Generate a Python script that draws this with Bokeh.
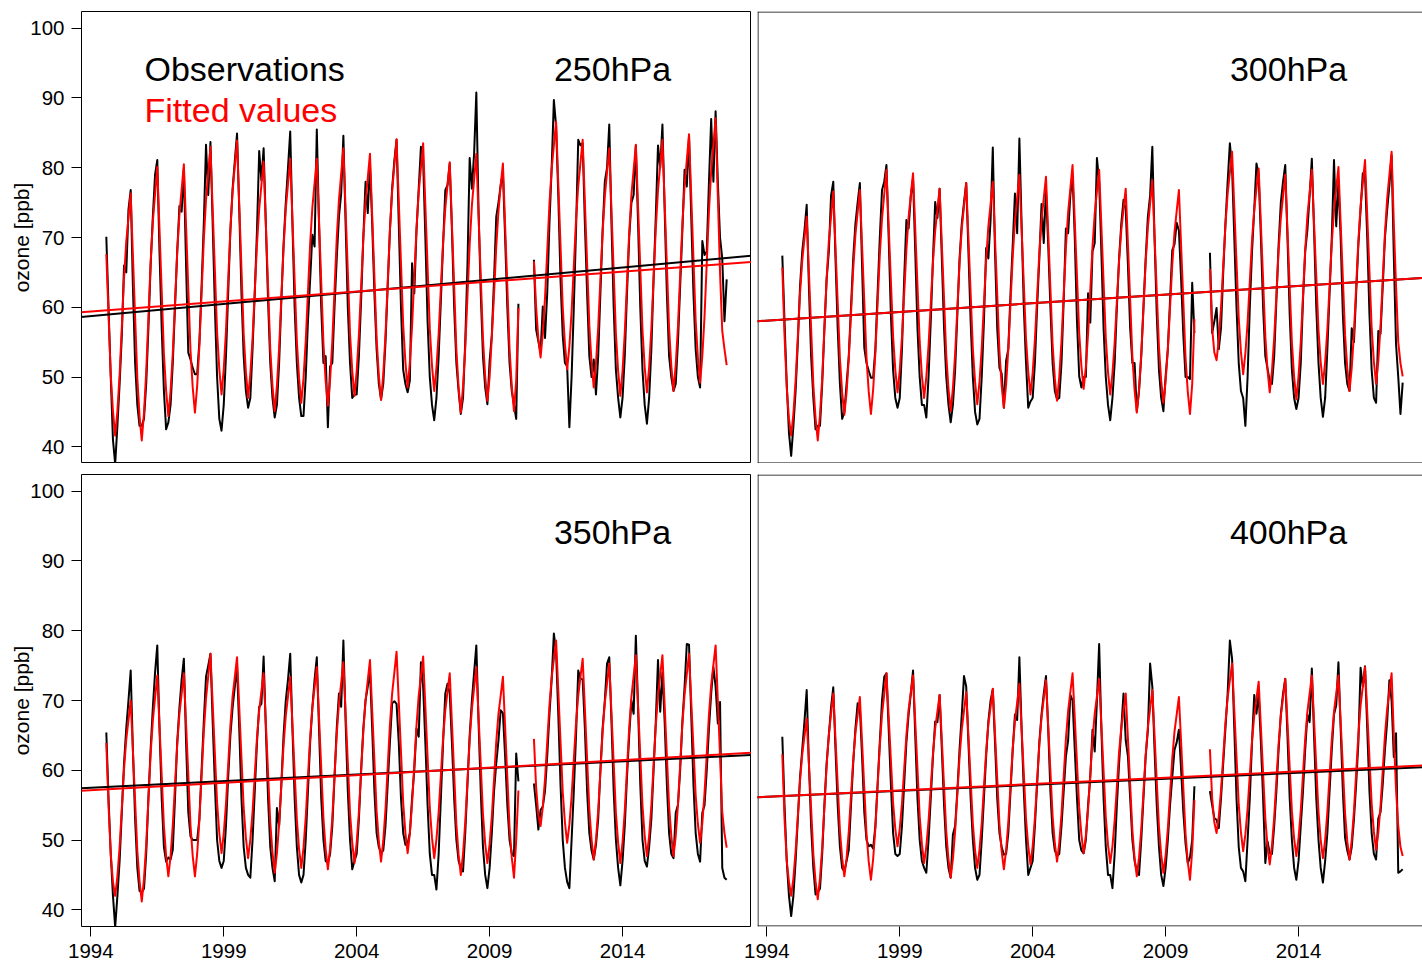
import numpy as np
from bokeh.plotting import figure
from bokeh.layouts import row, column
from bokeh.models import Label, Slope, Span, FixedTicker, Range1d
from bokeh.embed import file_html
from bokeh.resources import INLINE

nan = float("nan")
GAP = [nan] * 6          # Mar-Aug 2010: no data

START = (1994, 8)        # first month of every series (Aug 1994), monthly to Dec 2017
LEVELS = ["250hPa", "300hPa", "350hPa", "400hPa"]
YEAR_TICKS = [1994, 1999, 2004, 2009, 2014]
OZONE_TICKS = [40, 50, 60, 70, 80, 90, 100]

# ---- monthly ozone [ppb]; one row per year (1994: Aug-Dec) ----
OBS_250 = [
    [70.1, 60, 50, 41, 37.5],
    [43, 49, 56, 66, 65, 74, 76.8, 63, 52, 46, 43, 43],
    [44, 49, 57, 66, 73, 79, 81.1, 68, 57, 48, 42.5, 43.5],
    [46, 52, 60, 68, 74.5, 73.7, 79.9, 66, 53.5, 52.5, 51.3, 50.4],
    [50.4, 55, 63, 72, 83.3, 76.1, 83.7, 72, 60, 50, 44, 42.3],
    [46, 53, 62, 71, 77, 81, 84.9, 74, 62, 53, 48, 45.6],
    [47, 54, 62, 71, 82.4, 78.2, 82.8, 72, 61, 52, 47, 44.2],
    [46, 52, 61, 69, 75, 80, 85.2, 72, 60, 52, 47, 44.4],
    [44.4, 50, 58, 64, 70.4, 68.7, 85.5, 72, 60, 52, 53, 42.8],
    [51.5, 52, 60, 67, 73, 76.3, 84.6, 72, 60, 52, 47.0, 47.5],
    [47.5, 53, 61, 70, 78.0, 73.5, 80.5, 72, 62, 54, 49, 46.8],
    [49, 55, 63, 71, 77, 81, 84.0, 72, 60, 51, 49, 47.8],
    [49.5, 66.3, 62, 71, 77, 83.0, 81, 70, 58, 50, 46, 43.8],
    [47, 53, 61, 69, 76.8, 77.5, 80.6, 71, 60, 52, 48, 44.7],
    [47, 55, 66, 81.4, 77.0, 82, 90.8, 74, 62, 53, 48.5, 46.1],
    [52.3, 56, 64, 73.0, 75, 77.5, 79.4, 70, 60, 52, 48, 46],
    [44.0, 60.5] + GAP + [66.8, 56.8, 55.1, 53.5],
    [60.1, 55.6, 62, 72, 80, 89.7, 86, 76, 64, 56, 52, 51.5],
    [42.8, 50, 60, 71, 84.0, 83.2, 83.5, 72, 62, 53, 50, 52.5],
    [47.5, 53, 62, 71, 78, 80, 86.2, 72, 60, 51, 47, 44.2],
    [47, 53, 62, 70, 75, 76.1, 83.2, 72, 60, 51, 46, 43.3],
    [47, 54, 64, 73, 83.2, 80, 86.2, 74, 62, 53, 50, 48.0],
    [49, 55, 63, 71, 79.7, 77.3, 84.5, 73, 62, 54, 50, 48.5],
    [69.5, 67.5, 68, 78, 87.0, 78.0, 88.1, 78, 70, 67, 58, 64],
]
FIT_250 = [
    [67.6, 59.0, 50.3, 45.1, 41.6],
    [45.1, 50.3, 57.2, 64.2, 69.4, 72.8, 76.3, 67.5, 58.6, 49.8, 44.4, 40.9],
    [44.8, 50.7, 58.5, 66.4, 72.3, 76.2, 80.1, 71.2, 62.3, 53.3, 48.0, 44.4],
    [48.0, 53.4, 60.6, 67.9, 73.3, 76.9, 80.5, 71.6, 62.7, 53.8, 48.5, 44.9],
    [48.7, 54.4, 62.0, 69.7, 75.4, 79.2, 83.0, 74.1, 65.3, 56.4, 51.1, 47.5],
    [51.1, 56.6, 63.9, 71.2, 76.6, 80.3, 83.9, 74.7, 65.5, 56.2, 50.7, 47.0],
    [50.4, 55.5, 62.3, 69.0, 74.1, 77.5, 80.9, 71.9, 63.0, 54.0, 48.7, 45.1],
    [48.7, 54.2, 61.4, 68.6, 74.1, 77.7, 81.3, 72.6, 63.8, 55.1, 49.8, 46.3],
    [49.8, 55.1, 62.1, 69.1, 74.3, 77.8, 81.3, 72.5, 63.6, 54.8, 49.4, 45.9],
    [49.6, 55.1, 62.5, 69.9, 75.4, 79.1, 82.8, 73.9, 65.1, 56.2, 50.9, 47.3],
    [50.8, 56.0, 62.9, 69.9, 75.1, 78.5, 82.0, 73.2, 64.4, 55.5, 50.2, 46.7],
    [50.4, 56.0, 63.5, 71.0, 76.6, 80.4, 84.1, 75.2, 66.3, 57.4, 52.1, 48.5],
    [52.0, 57.3, 64.3, 71.3, 76.5, 80.0, 83.5, 74.6, 65.8, 56.9, 51.6, 48.0],
    [51.3, 56.2, 62.8, 69.3, 74.2, 77.5, 80.8, 71.8, 62.9, 53.9, 48.5, 44.9],
    [48.6, 54.2, 61.6, 69.0, 74.6, 78.3, 82.0, 73.2, 64.3, 55.5, 50.1, 46.6],
    [50.0, 55.8, 61.9, 68.7, 73.8, 77.5, 80.6, 71.7, 62.9, 54.0, 48.7, 45.1],
    [49.5, 59.9] + GAP + [66.6, 60.0, 55.5, 52.8],
    [56.2, 61.3, 68.0, 74.8, 79.8, 83.2, 86.6, 77.7, 68.9, 60.0, 54.7, 51.1],
    [54.4, 59.3, 65.9, 72.5, 77.4, 80.7, 84.0, 75.1, 66.3, 57.4, 52.1, 48.5],
    [51.9, 57.1, 63.9, 70.8, 75.9, 79.4, 82.8, 73.9, 65.1, 56.2, 50.9, 47.3],
    [50.9, 56.3, 63.5, 70.7, 76.1, 79.7, 83.3, 74.4, 65.6, 56.7, 51.4, 47.8],
    [51.4, 56.9, 64.1, 71.3, 76.8, 80.4, 84.0, 75.0, 66.0, 57.0, 51.6, 48.0],
    [51.7, 57.2, 64.6, 71.9, 77.4, 81.1, 84.8, 75.9, 67.0, 58.1, 52.8, 49.2],
    [53.0, 58.7, 66.3, 73.8, 79.5, 83.3, 87.1, 76.0, 65.0, 56.6, 54.0, 51.7],
]
OBS_300 = [
    [67.4, 58, 49, 42, 38.7],
    [43, 48, 55, 63, 68, 71, 74.7, 63, 53, 47, 42.5, 43.0],
    [43, 49, 57, 64, 68.0, 76, 78.0, 67, 57, 49, 44.0, 45],
    [49, 53, 60, 67, 72, 75, 77.8, 66, 54.2, 52, 50.9, 49.9],
    [49.9, 54, 62, 70, 76.8, 78, 80.4, 70, 59, 51, 47, 45.6],
    [47, 54, 64, 72.5, 71.3, 76, 78.5, 68, 57, 50, 46, 46],
    [44.2, 50, 58, 67, 75.1, 72.8, 77.0, 67, 57, 50, 46, 43.5],
    [46, 51, 59, 67, 72, 75, 77.8, 68, 58, 50, 45, 43.2],
    [44, 50, 58, 68.5, 67.0, 72.5, 82.9, 68, 57, 51.3, 50.5, 45.6],
    [52.3, 54, 62, 69, 76.3, 70.6, 84.2, 72, 60, 52, 45.6, 46.5],
    [47, 52, 60, 67, 74.8, 69.2, 77, 69, 60, 52, 48, 46.8],
    [47, 52, 61, 71.3, 70.6, 76.1, 79, 70, 58, 50.1, 48.5, 50],
    [50, 62.0, 57.8, 68, 69.2, 81.4, 78, 68, 57, 50, 46, 43.8],
    [47, 52, 60, 67, 72, 75.4, 74, 66, 57, 52, 52.0, 45.1],
    [48, 53, 60, 67, 73, 76, 83.0, 70, 59, 51, 47, 45.1],
    [50.1, 54, 61, 68.2, 69, 72.1, 71, 64, 56, 50, 50, 49.7],
    [63.5, 56.3] + GAP + [67.8, 56.3, 58, 59.9],
    [54.0, 57, 65, 72, 78, 83.5, 80, 70, 60, 52, 48, 47],
    [43.0, 50, 60, 68, 74, 80.6, 79, 70, 60, 53, 51.2, 49.4],
    [49, 53, 61, 69, 75, 78, 80.4, 70, 59, 51, 47, 45.4],
    [47, 52, 61, 68, 71.1, 76, 81.3, 71, 60, 52, 47, 44.3],
    [47, 54, 62, 70, 81.1, 71.6, 78, 70, 59, 52, 49, 48.0],
    [57.0, 55, 62, 69, 74, 79.2, 79, 70, 59, 51, 47, 46.3],
    [56.6, 56.2, 63, 70, 74, 77.5, 81.8, 67.3, 54.7, 50, 44.7, 49.2],
]
FIT_300 = [
    [65.7, 56, 48.5, 44, 41.6],
    [44.7, 49.5, 55.7, 62.0, 66.7, 69.9, 73.0, 65.0, 57.0, 48.9, 44.1, 40.9],
    [44.5, 49.8, 57.0, 64.1, 69.5, 73.0, 76.6, 68.6, 60.6, 52.6, 47.8, 44.6],
    [47.8, 52.7, 59.1, 65.5, 70.4, 73.6, 76.8, 68.8, 60.8, 52.7, 47.9, 44.7],
    [48.2, 53.5, 60.5, 67.5, 72.7, 76.2, 79.7, 71.7, 63.8, 55.8, 51.0, 47.8],
    [50.9, 55.7, 61.9, 68.2, 72.9, 76.1, 79.2, 71.2, 63.1, 55.1, 50.2, 47.0],
    [50.0, 54.5, 60.5, 66.5, 71.0, 74.0, 77.0, 69.0, 61.1, 53.1, 48.3, 45.1],
    [48.4, 53.3, 59.8, 66.4, 71.3, 74.5, 77.8, 69.9, 62.0, 54.0, 49.3, 46.1],
    [49.3, 54.1, 60.5, 66.8, 71.6, 74.8, 78.0, 69.9, 61.8, 53.7, 48.8, 45.6],
    [48.9, 54.0, 60.6, 67.3, 72.3, 75.7, 79.0, 71.1, 63.3, 55.4, 50.7, 47.5],
    [50.6, 55.3, 61.5, 67.8, 72.5, 75.6, 78.7, 70.7, 62.7, 54.6, 49.8, 46.6],
    [50.0, 55.1, 61.8, 68.6, 73.6, 77.0, 80.4, 72.3, 64.4, 56.3, 51.5, 48.3],
    [51.4, 56.2, 62.4, 68.7, 73.4, 76.6, 79.7, 71.7, 63.6, 55.6, 50.7, 47.5],
    [50.5, 54.9, 60.8, 66.7, 71.1, 74.1, 77.0, 69.0, 61.0, 52.9, 48.1, 44.9],
    [48.2, 53.2, 59.9, 66.5, 71.5, 74.9, 78.2, 70.2, 62.3, 54.3, 49.5, 46.3],
    [49.4, 53.9, 60.0, 66.1, 70.7, 73.8, 76.8, 68.8, 60.8, 52.7, 47.9, 44.7],
    [49.0, 58.3] + GAP + [65.5, 57.0, 53.5, 52.4],
    [55.4, 59.9, 65.9, 71.8, 76.3, 79.3, 82.3, 74.3, 66.4, 58.4, 53.6, 50.4],
    [53.4, 57.8, 63.7, 69.6, 74.0, 77.0, 79.9, 71.9, 63.9, 55.8, 51.0, 47.8],
    [50.9, 55.6, 61.8, 68.1, 72.8, 75.9, 79.0, 71.0, 62.9, 54.9, 50.0, 46.8],
    [50.1, 55.0, 61.6, 68.2, 73.1, 76.4, 79.7, 72.0, 64.4, 56.7, 52.1, 49.0],
    [52.1, 56.8, 63.0, 69.2, 73.9, 77.0, 80.1, 72.1, 64.1, 56.0, 51.2, 48.0],
    [51.3, 56.3, 62.9, 69.5, 74.5, 77.8, 81.1, 73.1, 65.1, 57.0, 52.2, 49.0],
    [52.3, 57.3, 64.0, 70.6, 75.6, 79.0, 82.3, 72.0, 63.0, 55.0, 52.0, 50.1],
]
OBS_350 = [
    [65.4, 56, 48, 42, 37.5],
    [42, 47, 54, 61, 66, 70, 74.3, 63, 53, 46, 42.7, 42.5],
    [43, 48, 56, 63, 69, 74, 77.9, 66, 56, 49, 46.9, 47.5],
    [47.2, 48.6, 56, 64, 69, 73, 76.0, 64, 54, 50.5, 50.0, 50.0],
    [50.0, 53, 60, 67, 73.4, 75, 76.7, 67, 58, 50, 47, 46.0],
    [47, 52, 59, 65, 69, 72, 74.8, 66, 56, 49, 46, 45],
    [44.6, 50, 57, 64, 69.1, 69.5, 76.3, 66, 56, 49, 46, 44.1],
    [54.6, 52, 58, 65, 70, 73, 76.7, 66, 56, 49, 45, 43.9],
    [45, 50, 57, 64, 69, 73, 76.2, 66, 56, 50, 47, 46.7],
    [48, 52, 59, 66, 71, 69.1, 78.6, 67, 57, 50, 45.8, 47],
    [48, 53, 60, 66, 70, 72, 74.3, 66, 57, 51, 49, 48.1],
    [48.5, 52, 58, 64, 69.6, 69.9, 69.5, 64, 56, 51, 49.3, 49.5],
    [51, 56, 60, 66, 64.8, 75.5, 72, 64, 55, 48, 45, 45],
    [42.9, 48, 56, 64, 71, 72.4, 71, 64, 56, 50, 47, 46],
    [45.5, 51, 58, 65, 70, 74, 77.9, 67, 57, 49, 45, 43.1],
    [46, 51, 57, 61, 64.3, 68.6, 68.2, 62, 55, 50, 48.1, 47.7],
    [62.4, 58.4] + GAP + [58.1, 55, 51.5, 54.3],
    [54.8, 57, 62, 68, 73, 79.6, 77, 68, 58, 50, 46, 44],
    [43.1, 50, 57, 65, 74.3, 73.1, 73, 66, 57, 51, 48.5, 47.2],
    [49.3, 53, 60, 66, 70, 75.3, 76.2, 67, 57, 50, 46, 43.5],
    [47, 52, 59, 65, 70, 68.1, 79.3, 69, 58, 50, 47, 46.2],
    [49, 53, 60, 67, 75.8, 68.4, 74, 67, 58, 51, 48, 47.4],
    [53.9, 55, 60, 67, 72, 78.1, 78, 68, 58, 51, 48, 46.9],
    [53.9, 55, 60, 66, 71, 74.8, 72, 66.7, 69.8, 46, 44.6, 44.3],
]
FIT_350 = [
    [63.9, 55, 48, 44, 42.0],
    [44.8, 49.0, 54.6, 60.2, 64.4, 67.2, 70.0, 62.8, 55.6, 48.4, 44.1, 41.2],
    [44.4, 49.3, 55.8, 62.3, 67.1, 70.4, 73.6, 66.4, 59.2, 52.0, 47.7, 44.8],
    [47.7, 52.1, 57.9, 63.7, 68.1, 71.0, 73.9, 66.6, 59.4, 52.1, 47.7, 44.8],
    [48.0, 52.8, 59.2, 65.5, 70.3, 73.5, 76.7, 69.6, 62.4, 55.3, 51.0, 48.1],
    [50.9, 55.1, 60.7, 66.4, 70.6, 73.4, 76.2, 69.0, 61.8, 54.6, 50.3, 47.4],
    [50.1, 54.0, 59.3, 64.6, 68.6, 71.3, 73.9, 66.8, 59.6, 52.5, 48.2, 45.3],
    [48.1, 52.3, 57.9, 63.6, 67.8, 70.6, 73.4, 66.6, 59.7, 52.9, 48.7, 46.0],
    [48.9, 53.2, 59.0, 64.7, 69.0, 71.9, 74.8, 67.6, 60.3, 53.1, 48.7, 45.8],
    [48.8, 53.2, 59.2, 65.1, 69.6, 72.5, 75.5, 68.3, 61.1, 53.9, 49.6, 46.7],
    [49.6, 54.0, 59.8, 65.6, 70.0, 72.9, 75.8, 68.6, 61.4, 54.1, 49.8, 46.9],
    [49.9, 54.4, 60.4, 66.5, 71.0, 74.0, 77.0, 69.8, 62.6, 55.3, 51.0, 48.1],
    [50.9, 55.2, 60.8, 66.4, 70.7, 73.5, 76.3, 69.1, 61.9, 54.6, 50.3, 47.4],
    [50.1, 54.0, 59.3, 64.6, 68.6, 71.3, 73.9, 66.7, 59.5, 52.2, 47.9, 45.0],
    [48.0, 52.5, 58.4, 64.4, 68.8, 71.8, 74.8, 67.8, 60.8, 53.7, 49.5, 46.7],
    [49.4, 53.4, 58.7, 64.1, 68.1, 70.7, 73.4, 66.2, 59.0, 51.8, 47.5, 44.6],
    [50.0, 57.1] + GAP + [64.5, 57.5, 53.5, 52.0],
    [54.7, 58.7, 64.0, 69.3, 73.3, 75.9, 78.6, 71.4, 64.1, 56.9, 52.5, 49.6],
    [52.2, 56.2, 61.5, 66.8, 70.7, 73.4, 76.0, 68.8, 61.6, 54.4, 50.1, 47.2],
    [50.0, 54.2, 59.8, 65.5, 69.7, 72.5, 75.3, 68.2, 61.0, 53.9, 49.6, 46.7],
    [49.7, 54.2, 60.1, 66.1, 70.5, 73.5, 76.5, 69.3, 62.1, 54.9, 50.6, 47.7],
    [50.6, 54.9, 60.7, 66.4, 70.7, 73.6, 76.5, 69.3, 62.1, 54.9, 50.6, 47.7],
    [50.6, 55.0, 60.8, 66.6, 70.9, 73.8, 76.7, 69.9, 63.2, 56.4, 52.3, 49.6],
    [52.4, 56.7, 62.3, 68.0, 72.2, 75.1, 77.9, 70.0, 62.0, 54.0, 51.0, 48.9],
]
OBS_400 = [
    [64.8, 55, 47, 42, 39.1],
    [42, 47, 53, 59, 63, 67, 71.5, 61, 52, 46, 42.2, 42.5],
    [43, 48, 55, 61, 65, 69, 71.9, 63, 55, 49, 46, 45.5],
    [47, 48.6, 55, 61, 66, 69.6, 69, 62, 54, 50, 49.1, 49.3],
    [48.8, 52, 58, 64, 70, 73.4, 73.9, 66, 58, 51, 48, 47.7],
    [48, 52, 58, 64, 68, 71, 74.3, 65, 56, 50, 47, 46],
    [45.3, 50, 56, 62, 67, 66.9, 70.8, 63, 55, 49, 46, 44.6],
    [50.8, 52, 57, 63, 68, 73.5, 72, 64, 56, 50, 46, 44.3],
    [45, 50, 56, 62, 67, 70, 71.6, 64, 56, 51, 49, 47.9],
    [48, 51, 57, 63, 68, 67.2, 76.2, 66, 57, 50, 45.0, 46],
    [47, 52, 58, 64, 68, 71, 73.5, 66, 57, 51, 48.5, 47.7],
    [48, 52, 57, 62, 64.3, 70.8, 70, 63, 56, 50, 48.5, 48.1],
    [50, 55, 59, 65.8, 62.7, 70, 78.1, 66, 56, 49, 45, 45],
    [43.1, 48, 55, 61, 66, 71.0, 64.3, 62, 56, 50, 47, 45.5],
    [45.0, 50, 56, 62, 65.8, 75.3, 72, 63, 55, 49, 45, 43.4],
    [46, 50, 55, 59, 62.9, 64, 65.8, 60, 54, 49.5, 46.7, 47.5],
    [50, 57.7] + GAP + [57.0, 55, 53.1, 52.9],
    [51.7, 56, 61, 66, 71, 78.6, 76, 66, 56, 49, 46, 45.5],
    [44.1, 50, 56, 64, 70.8, 68.1, 71, 64, 56, 46.7, 49.8, 48.1],
    [48, 52, 57, 63, 68, 71, 73.1, 65, 56, 50, 46, 44.3],
    [47, 52, 57, 63, 68, 66.9, 74.6, 65, 56, 50, 46, 43.9],
    [47, 51, 57, 63, 68, 69.3, 75.5, 66, 57, 50.3, 48.5, 47.2],
    [49, 53, 58, 64, 74.7, 72, 74.9, 66, 57, 51, 48, 47.2],
    [53.1, 54, 58, 63, 67, 72.9, 70, 61.9, 65.3, 45.3, 45.5, 45.8],
]
FIT_400 = [
    [62.3, 53, 47, 44, 42.0],
    [44.5, 48.4, 53.4, 58.5, 62.3, 64.9, 67.4, 61.0, 54.5, 48.0, 44.1, 41.5],
    [44.5, 48.9, 54.8, 60.7, 65.1, 68.1, 71.0, 64.5, 57.9, 51.4, 47.4, 44.8],
    [47.4, 51.2, 56.4, 61.5, 65.4, 67.9, 70.5, 64.0, 57.4, 50.9, 46.9, 44.3],
    [47.3, 51.7, 57.6, 63.5, 68.0, 70.9, 73.9, 67.7, 61.5, 55.3, 51.6, 49.1],
    [51.6, 55.2, 60.1, 65.0, 68.7, 71.2, 73.6, 66.9, 60.2, 53.4, 49.4, 46.7],
    [49.1, 52.7, 57.5, 62.4, 66.0, 68.4, 70.8, 64.3, 57.7, 51.2, 47.2, 44.6],
    [47.3, 51.3, 56.6, 61.9, 65.9, 68.5, 71.2, 64.9, 58.6, 52.3, 48.5, 46.0],
    [48.6, 52.4, 57.6, 62.7, 66.6, 69.1, 71.7, 65.2, 58.8, 52.3, 48.4, 45.8],
    [48.5, 52.5, 57.8, 63.1, 67.1, 69.7, 72.4, 65.9, 59.5, 53.0, 49.1, 46.5],
    [49.1, 53.1, 58.4, 63.7, 67.6, 70.3, 72.9, 66.4, 59.9, 53.4, 49.5, 46.9],
    [49.6, 53.7, 59.1, 64.5, 68.5, 71.2, 73.9, 67.5, 61.0, 54.6, 50.7, 48.1],
    [50.6, 54.4, 59.4, 64.4, 68.1, 70.6, 73.1, 66.5, 59.9, 53.3, 49.3, 46.7],
    [49.1, 52.8, 57.6, 62.6, 66.1, 68.6, 71.0, 64.5, 57.9, 51.4, 47.4, 44.8],
    [47.5, 51.5, 56.8, 62.2, 66.2, 68.8, 71.5, 65.0, 58.4, 51.9, 47.9, 45.3],
    [47.8, 51.6, 56.6, 61.7, 65.5, 68.0, 70.5, 64.0, 57.4, 50.9, 46.9, 44.3],
    [48.5, 55.7] + GAP + [63.0, 56.0, 52.5, 51.0],
    [53.4, 57.1, 61.9, 66.8, 70.4, 72.9, 75.3, 68.6, 61.9, 55.1, 51.1, 48.4],
    [50.8, 54.5, 59.3, 64.2, 67.8, 70.3, 72.7, 66.2, 59.6, 53.1, 49.1, 46.5],
    [49.2, 53.2, 58.5, 63.8, 67.8, 70.4, 73.1, 66.8, 60.4, 54.1, 50.2, 47.7],
    [50.3, 54.2, 59.4, 64.5, 68.4, 71.0, 73.6, 67.1, 60.5, 54.0, 50.0, 47.4],
    [50.0, 54.0, 59.2, 64.4, 68.4, 71.0, 73.6, 67.0, 60.4, 53.8, 49.8, 47.2],
    [50.0, 54.1, 59.6, 65.1, 69.3, 72.0, 74.8, 68.3, 61.7, 55.2, 51.2, 48.6],
    [51.1, 54.9, 60.0, 65.0, 68.8, 71.4, 73.9, 65.0, 57.2, 52.0, 49.0, 47.7],
]

# linear trends: value in 1994.0 [ppb] and slope [ppb / year]
TREND_OBS_1994 = [58.72, 58.09, 57.50, 56.20]
TREND_OBS_SLOPE = [0.349, 0.248, 0.189, 0.172]
TREND_FIT_1994 = [59.40, 58.09, 57.13, 56.20]
TREND_FIT_SLOPE = [0.286, 0.248, 0.216, 0.182]

OBS = [OBS_250, OBS_300, OBS_350, OBS_400]
FIT = [FIT_250, FIT_300, FIT_350, FIT_400]

FONT = "Liberation Sans"
X_START, X_END = 1993.65, 2018.85
Y_START, Y_END = 37.6, 102.4
FRAME_W, FRAME_H = 670, 452
PX_X = FRAME_W / (X_END - X_START)      # pixels per year
PX_Y = FRAME_H / (Y_END - Y_START)      # pixels per ppb


def flat(rows):
    return np.array([v for r in rows for v in r], dtype=float)


def month_axis(n):
    y0, m0 = START
    return y0 + (m0 - 1) / 12.0 + np.arange(n) / 12.0


def panel(i, left, bottom):
    fw = FRAME_W if left else 665
    x_end = X_START + fw / PX_X
    if left:
        pad_left = 81
    else:
        pad_left = 14 if bottom else 6
    pad_bottom = 39 if bottom else 0
    p = figure(width=pad_left + fw, height=11 + FRAME_H + pad_bottom,
               x_range=Range1d(X_START, x_end), y_range=Range1d(Y_START, Y_END),
               x_axis_location="below" if bottom else None,
               y_axis_location="left" if left else None,
               output_backend="svg", toolbar_location=None,
               min_border_left=pad_left, min_border_right=0,
               min_border_top=11, min_border_bottom=pad_bottom)
    p.grid.grid_line_color = None
    p.background_fill_color = "white"
    if not left and bottom:
        p.margin = (0, 0, 0, -8)
        p.border_fill_color = None
    else:
        p.border_fill_color = "white"

    if left:
        p.outline_line_color = "black"
        p.outline_line_width = 1
    else:
        p.outline_line_color = None
        hx = 0.5 / PX_X
        hy = 0.5 / PX_Y
        p.add_layout(Span(location=X_START + hx, dimension="height", line_color="black", line_width=1))
        p.add_layout(Span(location=Y_START + hy, dimension="width", line_color="black", line_width=1))
        p.add_layout(Span(location=Y_END - hy, dimension="width", line_color="black", line_width=1))

    if left:
        ax = p.yaxis[0]
        ax.ticker = FixedTicker(ticks=OZONE_TICKS)
        ax.axis_line_color = None
        ax.major_tick_out = 10
        ax.major_tick_in = 0
        ax.minor_tick_out = 0
        ax.minor_tick_in = 0
        ax.major_tick_line_color = "black"
        ax.major_label_text_font = FONT
        ax.major_label_text_font_size = "20.5px"
        ax.major_label_text_color = "black"
        ax.major_label_standoff = 7
        ax.axis_label = "ozone [ppb]"
        ax.axis_label_text_font = FONT
        ax.axis_label_text_font_size = "21px"
        ax.axis_label_text_font_style = "normal"
        ax.axis_label_text_color = "black"
        ax.axis_label_standoff = -6
    if bottom:
        ax = p.xaxis[0]
        ax.ticker = FixedTicker(ticks=YEAR_TICKS)
        ax.axis_line_color = None
        ax.major_tick_out = 10
        ax.major_tick_in = 0
        ax.minor_tick_out = 0
        ax.minor_tick_in = 0
        ax.major_tick_line_color = "black"
        ax.major_label_text_font = FONT
        ax.major_label_text_font_size = "20.5px"
        ax.major_label_text_color = "black"
        ax.major_label_standoff = 7

    obs = flat(OBS[i])
    fit = flat(FIT[i])
    t = month_axis(len(obs))
    p.line(t, obs, line_color="black", line_width=2, line_join="round")
    p.line(t, fit, line_color="red", line_width=2, line_join="round")

    so, sf = TREND_OBS_SLOPE[i], TREND_FIT_SLOPE[i]
    p.add_layout(Slope(gradient=so, y_intercept=TREND_OBS_1994[i] - so * 1994,
                       line_color="black", line_width=2))
    p.add_layout(Slope(gradient=sf, y_intercept=TREND_FIT_1994[i] - sf * 1994,
                       line_color="red", line_width=2))

    p.add_layout(Label(x=2011.42, y=94.1, text=LEVELS[i], text_font=FONT,
                       text_font_size="34px", text_color="black",
                       text_baseline="alphabetic", text_align="left"))
    if i == 0:
        p.add_layout(Label(x=1996.02, y=94.15, text="Observations", text_font=FONT,
                           text_font_size="34px", text_color="black",
                           text_baseline="alphabetic", text_align="left"))
        p.add_layout(Label(x=1996.02, y=88.35, text="Fitted values", text_font=FONT,
                           text_font_size="34px", text_color="red",
                           text_baseline="alphabetic", text_align="left"))
    return p


p1 = panel(0, left=True, bottom=False)
p2 = panel(1, left=False, bottom=False)
p3 = panel(2, left=True, bottom=True)
p4 = panel(3, left=False, bottom=True)

layout = column(row(p1, p2), row(p3, p4))

open("out.html", "w").write(file_html(layout, INLINE))
